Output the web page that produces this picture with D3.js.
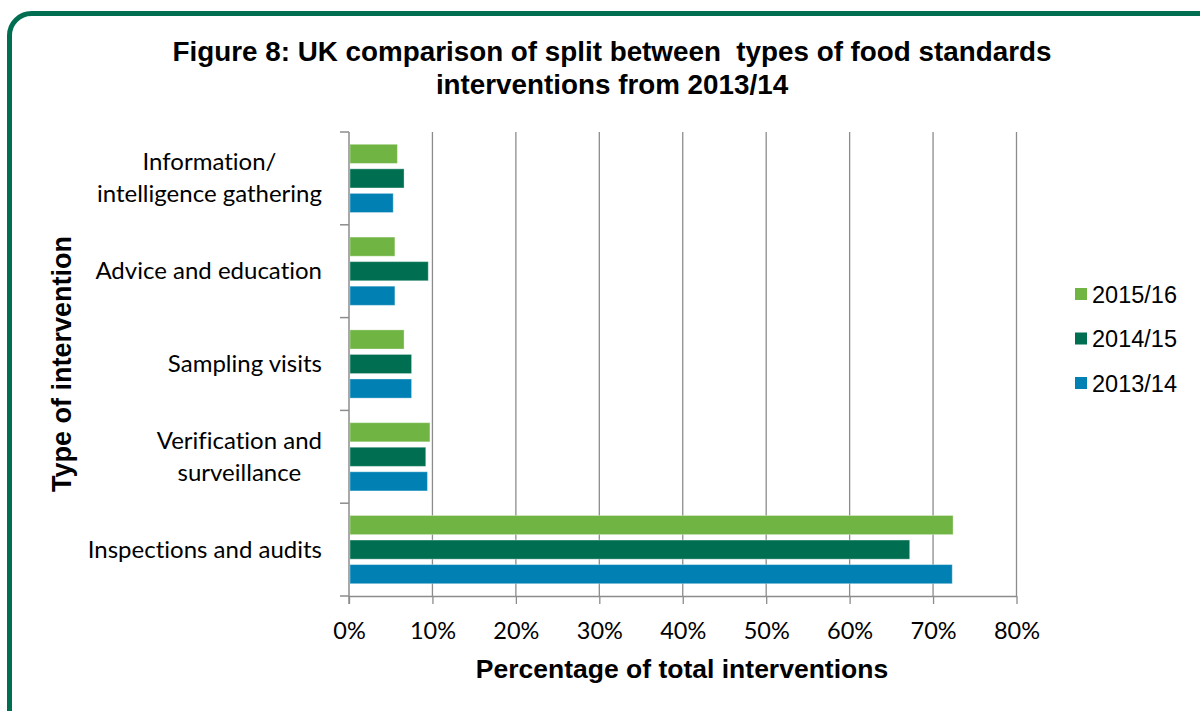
<!DOCTYPE html>
<html><head><meta charset="utf-8">
<script src="https://cdn.jsdelivr.net/npm/d3@7"></script>
<style>body{margin:0;background:#fff}svg{display:block}text{font-variant-ligatures:none;font-feature-settings:"liga" 0,"clig" 0}</style>
</head><body>
<svg id="c" width="1200" height="711"></svg>
<script>
const categories = ["Information/\nintelligence gathering","Advice and education","Sampling visits","Verification and\nsurveillance","Inspections and audits"];
const seriesNames = ["2015/16","2014/15","2013/14"];
const seriesColors = ["#70B443","#006F51","#0080B3"];
const values2015_16 = [5.8,5.5,6.6,9.7,72.4];
const values2014_15 = [6.6,9.5,7.5,9.2,67.2];
const values2013_14 = [5.3,5.5,7.5,9.4,72.3];
const xTicks = [0,10,20,30,40,50,60,70,80];
const seriesValues = [values2015_16,values2014_15,values2013_14];

const svg = d3.select("#c");
svg.append("rect").attr("x",9.5).attr("y",13.5).attr("width",1215).attr("height",730)
  .attr("rx",22).attr("fill","none").attr("stroke","#006F51").attr("stroke-width",5);

const L=349,R=1016.5,T=132,B=596;
const x=d3.scaleLinear().domain([0,80]).range([L,R]);
const y=d3.scaleBand().domain(categories).range([T,B]);
const inner=d3.scaleBand().domain(seriesNames).range([0,y.bandwidth()]).paddingInner(0.22).paddingOuter(0.5);

// gridlines
svg.append("g").selectAll("line").data(xTicks.slice(1)).join("line")
  .attr("x1",d=>x(d)).attr("x2",d=>x(d)).attr("y1",T).attr("y2",B)
  .attr("stroke","#8c8c8c").attr("stroke-width",1.3);

// bars
seriesNames.forEach((s,si)=>{
  svg.append("g").selectAll("rect").data(categories).join("rect")
    .attr("x",x(0)+1).attr("y",c=>y(c)+inner(s))
    .attr("width",(c,i)=>x(seriesValues[si][i])-x(0)-1)
    .attr("height",inner.bandwidth())
    .attr("fill",seriesColors[si]).attr("stroke","rgba(255,255,255,0.35)").attr("stroke-width",1);
});

// x axis
const xa=svg.append("g").attr("transform",`translate(0,${B})`)
  .call(d3.axisBottom(x).tickValues(xTicks).tickFormat(d=>d+"%").tickSize(8).tickSizeOuter(0));
xa.select(".domain").attr("stroke","#8c8c8c").attr("stroke-width",1.5);
xa.selectAll(".tick line").attr("stroke","#8c8c8c").attr("stroke-width",1.3);
xa.selectAll(".tick text").attr("font-family","Lato, 'Open Sans', sans-serif").attr("font-size",23.5).attr("fill","#000").attr("y",26).attr("dy","0.71em");

// y axis
const yTickPos=[...categories.map(c=>y(c)),B];
svg.append("line").attr("x1",L).attr("x2",L).attr("y1",T).attr("y2",B+8).attr("stroke","#8c8c8c").attr("stroke-width",1.5);
svg.append("g").selectAll("line").data(yTickPos).join("line")
  .attr("x1",L-9).attr("x2",L).attr("y1",d=>d).attr("y2",d=>d).attr("stroke","#8c8c8c").attr("stroke-width",1.5);
const labRight=322;
const lab=svg.append("g").selectAll("text").data(categories).join("text")
  .attr("text-anchor","middle").attr("font-family","Lato, 'Open Sans', sans-serif").attr("font-size",24).attr("fill","#000")
  .attr("y",c=>y(c)+y.bandwidth()/2);
lab.each(function(c){
  const lines=c.split("\n"); const t=d3.select(this);
  const spans=lines.map((ln,i)=>t.append("tspan").attr("dy",i===0?((-(lines.length-1)*32/2)+8)+"px":"32px").text(ln));
  const w=d3.max(spans,s=>s.node().getComputedTextLength());
  spans.forEach(s=>s.attr("x",labRight-w/2));
});

// titles
const title=svg.append("text").attr("text-anchor","middle").attr("font-family","'Liberation Sans', Arial, sans-serif")
  .attr("font-weight","bold").attr("font-size",27.8).attr("fill","#000");
title.append("tspan").attr("x",612).attr("y",61).attr("xml:space","preserve").text("Figure 8: UK comparison of split between  types of food standards");
title.append("tspan").attr("x",612).attr("y",94).text("interventions from 2013/14");
svg.append("text").attr("x",682).attr("y",678).attr("text-anchor","middle").attr("font-family","'Liberation Sans', Arial, sans-serif")
  .attr("font-weight","bold").attr("font-size",26.5).text("Percentage of total interventions");
svg.append("text").attr("transform","translate(71,364) rotate(-90)").attr("text-anchor","middle").attr("font-family","'Liberation Sans', Arial, sans-serif")
  .attr("font-weight","bold").attr("font-size",27).text("Type of intervention");

// legend
const lg=svg.append("g").selectAll("g").data(seriesNames).join("g").attr("transform",(d,i)=>`translate(1075,${294+i*44.5})`);
lg.append("rect").attr("x",0).attr("y",-6).attr("width",12).attr("height",12).attr("fill",(d,i)=>seriesColors[i]);
lg.append("text").attr("x",17).attr("y",8.5).attr("font-family","'Liberation Sans', Arial, sans-serif").attr("font-size",23.5).text(d=>d);
</script>
</body></html>
